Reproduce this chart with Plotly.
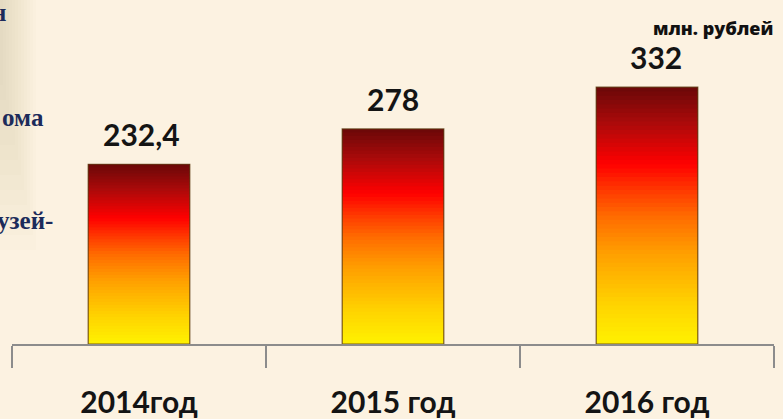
import plotly.graph_objects as go

# data
years = ["2014год", "2015 год", "2016 год"]
values = [232.4, 278, 332]
value_labels = ["232,4", "278", "332"]
unit_label = "млн. рублей"
side_labels = ["н", "ома", "узей-"]   # cut-off text from neighbouring slide block

W, H = 783, 419
L, R, T, B = 12, 9, 40, 75
pw, ph = W - L - R, H - T - B

def px_x(p):
    return (p - L) / pw

def px_y(p):
    return (H - B - p) / ph

# gradient of the bars, 0 = bottom, 1 = top
stops = [
    (0.0, (255, 242, 0)),
    (0.15, (255, 212, 0)),
    (0.35, (255, 160, 0)),
    (0.5, (255, 106, 0)),
    (0.6, (255, 56, 0)),
    (0.7, (255, 0, 0)),
    (0.85, (176, 10, 10)),
    (1.0, (106, 8, 8)),
]

def grad(t):
    for (t0, c0), (t1, c1) in zip(stops[:-1], stops[1:]):
        if t0 <= t <= t1:
            f = (t - t0) / (t1 - t0)
            c = [round(a + (b - a) * f) for a, b in zip(c0, c1)]
            return "rgb(%d,%d,%d)" % tuple(c)
    return "rgb(%d,%d,%d)" % stops[-1][1]

fig = go.Figure()

N = 60
for k in range(N):
    bases = [v * k / N for v in values]
    # each slice reaches into the next one so no seams show
    heights = [min(2 * v / N, v - b) for v, b in zip(values, bases)]
    fig.add_trace(go.Bar(
        x=years, base=bases, y=heights,
        marker=dict(color=grad((k + 0.5) / N), line=dict(width=0)),
        width=0.4, hoverinfo="skip", showlegend=False,
    ))

# outline on top of the gradient
fig.add_trace(go.Bar(
    x=years, y=values, base=0, width=0.4,
    marker=dict(color="rgba(0,0,0,0)", line=dict(color="rgba(90,55,15,0.8)", width=1.2)),
    showlegend=False,
))

label_shift = [2, 0, 9]
for yr, v, lab, dx in zip(years, values, value_labels, label_shift):
    fig.add_annotation(x=yr, y=v, text="<b>%s</b>" % lab, showarrow=False,
                       yanchor="middle", yshift=30, xshift=dx,
                       font=dict(family="Lato", size=30, color="#141414"))

fig.add_annotation(x=px_x(713), y=px_y(28), xref="paper", yref="paper",
                   xanchor="center", yanchor="middle",
                   text=unit_label, showarrow=False,
                   font=dict(family="Open Sans", size=18, color="#111111", weight=800))

for lab, (rx, cy) in zip(side_labels, [(8, 13), (46, 117), (55, 220)]):
    fig.add_annotation(x=px_x(rx), y=px_y(cy), xref="paper", yref="paper",
                       xanchor="right", yanchor="middle",
                       text="<b>%s</b>" % lab, showarrow=False,
                       font=dict(family="Liberation Serif", size=25, color="#1c2b5a"))

# soft grey shadow on the left edge
for i in range(12):
    fig.add_shape(type="rect", xref="paper", yref="paper", layer="below",
                  x0=px_x(0), x1=px_x(3 * (12 - i)), y0=px_y(250 - 15 * i), y1=px_y(0),
                  fillcolor="rgba(140,130,115,0.02)", line=dict(width=0))

fig.update_layout(
    width=W, height=H,
    margin=dict(l=L, r=R, t=T, b=B, autoexpand=False),
    barmode="overlay",
    paper_bgcolor="#fcf2e1",
    plot_bgcolor="rgba(0,0,0,0)",
    showlegend=False,
)
fig.update_xaxes(
    tickson="boundaries", ticks="outside", ticklen=22, tickwidth=2, tickcolor="#8c8c8c",
    showline=True, linecolor="#8c8c8c", linewidth=2,
    ticklabelstandoff=31, automargin=False,
    tickfont=dict(family="Lato", size=30, color="#141414", weight="bold"),
    showgrid=False,
)
fig.update_yaxes(range=[0, 393], visible=False, showgrid=False, automargin=False)

fig.write_html("out.html", config={"displayModeBar": False},
               post_script="document.body.style.margin='0';")
